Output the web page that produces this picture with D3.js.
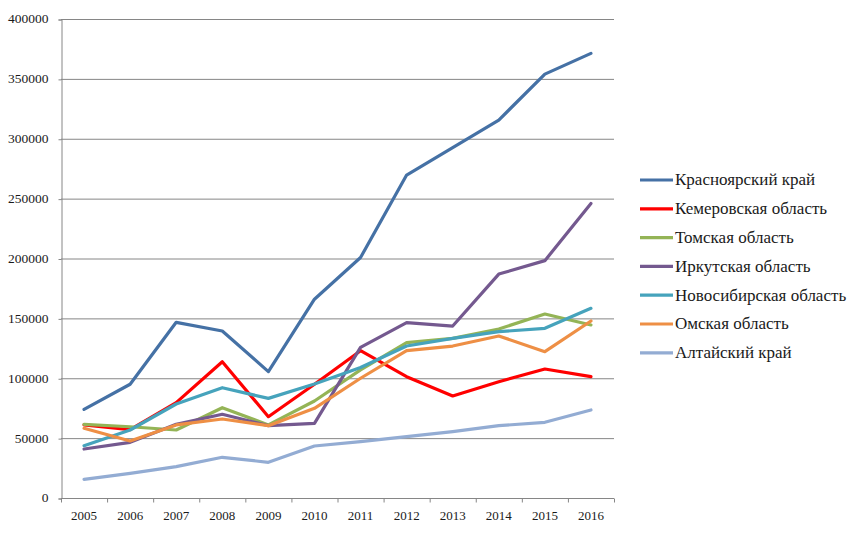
<!DOCTYPE html>
<html>
<head>
<meta charset="utf-8">
<script src="https://cdn.jsdelivr.net/npm/d3@7"></script>
<style>
  body { margin: 0; background: #fff; }
</style>
</head>
<body>
<div id="chart"></div>
<script>
const years = ["2005","2006","2007","2008","2009","2010","2011","2012","2013","2014","2015","2016"];
const yTicks = [0, 50000, 100000, 150000, 200000, 250000, 300000, 350000, 400000];

const regionNames = ["Красноярский край", "Кемеровская область", "Томская область", "Иркутская область",
  "Новосибирская область", "Омская область", "Алтайский край"];
const regionColors = ["#4571a5", "#ff0000", "#94b456", "#74598f", "#46a3bc", "#ee8f45", "#93acd3"];

const krasnoyarsk = [74000, 95000, 146700, 139500, 105500, 166000, 200800, 269700, 292600, 315600, 354000, 371300];
const kemerovo    = [61000, 57000, 79600, 113800, 67900, 95000, 123000, 101300, 85200, 97100, 107700, 101300];
const tomsk       = [61500, 59500, 56800, 75400, 61000, 81000, 107000, 129700, 133300, 141100, 153600, 144500];
const irkutsk     = [40900, 46500, 61500, 69900, 60400, 62300, 125800, 146400, 143600, 187000, 198200, 246000];
const novosib     = [43700, 56800, 78500, 92100, 83200, 95200, 109000, 126900, 133300, 138900, 141700, 158400];
const omsk        = [58200, 47600, 61000, 66000, 60400, 74900, 100000, 123000, 126900, 135300, 122200, 147800];
const altai       = [15600, 20600, 26200, 34000, 29800, 43400, 47000, 51200, 55400, 60400, 63200, 73500];

const seriesValues = [krasnoyarsk, kemerovo, tomsk, irkutsk, novosib, omsk, altai];

const FONT = "'Liberation Serif', 'Times New Roman', serif";

const chart = {
  width: 860,
  height: 537,
  margin: {top: 19, right: 246, bottom: 39, left: 61},
  draw: () => {
    const {width, height, margin} = chart;
    const svg = d3.select("#chart").append("svg")
      .attr("width", width)
      .attr("height", height)
      .style("font-family", FONT);

    const x = d3.scaleBand()
      .domain(years)
      .range([margin.left, width - margin.right])
      .padding(0);
    const bw = x.bandwidth();

    const y = d3.scaleLinear()
      .domain([0, 400000])
      .range([height - margin.bottom, margin.top]);

    // gridlines
    svg.append("g")
      .selectAll("line")
      .data(yTicks.slice(1))
      .join("line")
        .attr("x1", margin.left)
        .attr("x2", width - margin.right)
        .attr("y1", d => y(d) + 0.5)
        .attr("y2", d => y(d) + 0.5)
        .attr("stroke", "#868686")
        .attr("stroke-width", 1);

    // y axis
    const gy = svg.append("g")
      .attr("transform", "translate(" + (margin.left + 0.5) + ",0.5)")
      .call(d3.axisLeft(y).tickValues(yTicks).tickSize(3).tickPadding(10).tickFormat(d3.format("d")));
    gy.attr("font-family", null);
    gy.selectAll("path, line").attr("stroke", "#868686");
    gy.selectAll("text")
      .attr("dy", "0.25em")
      .style("font-family", FONT)
      .style("font-size", "13.5px")
      .attr("fill", "#1a1a1a");

    // x axis (ticks between categories)
    const gx = svg.append("g")
      .attr("transform", "translate(0," + (y(0) + 0.5) + ")");
    gx.append("line")
      .attr("x1", margin.left)
      .attr("x2", width - margin.right)
      .attr("stroke", "#868686");
    gx.selectAll(".tk")
      .data(years.concat(["end"]))
      .join("line")
        .attr("class", "tk")
        .attr("x1", d => d === "end" ? x.range()[1] + 0.5 : x(d) + 0.5)
        .attr("x2", d => d === "end" ? x.range()[1] + 0.5 : x(d) + 0.5)
        .attr("y1", 0)
        .attr("y2", 4)
        .attr("stroke", "#868686");
    gx.selectAll("text")
      .data(years)
      .join("text")
        .attr("x", d => x(d) + bw / 2)
        .attr("y", 21)
        .attr("text-anchor", "middle")
        .attr("fill", "#1a1a1a")
        .style("font-family", FONT)
        .style("font-size", "13px")
        .text(d => d);

    // lines
    const line = d3.line()
      .x((d, i) => x(years[i]) + bw / 2)
      .y(d => y(d));

    svg.append("g")
      .selectAll("path")
      .data(seriesValues)
      .join("path")
        .attr("d", d => line(d))
        .attr("fill", "none")
        .attr("stroke", (d, i) => regionColors[i])
        .attr("stroke-width", 3.2)
        .attr("stroke-linejoin", "round")
        .attr("stroke-linecap", "round");

    // legend
    const lg = svg.append("g").attr("transform", "translate(640,180)");
    const rows = lg.selectAll("g")
      .data(regionNames)
      .join("g")
        .attr("transform", (d, i) => "translate(0," + (i * 28.8) + ")");
    rows.append("line")
      .attr("x1", 0).attr("x2", 33)
      .attr("stroke", (d, i) => regionColors[i])
      .attr("stroke-width", 3.2);
    rows.append("text")
      .attr("x", 35)
      .attr("y", 0)
      .attr("dy", "0.32em")
      .attr("fill", "#1a1a1a")
      .style("font-family", FONT)
      .style("font-size", "17px")
      .text(d => d);
  }
};

document.addEventListener("DOMContentLoaded", chart.draw);
</script>
</body>
</html>
